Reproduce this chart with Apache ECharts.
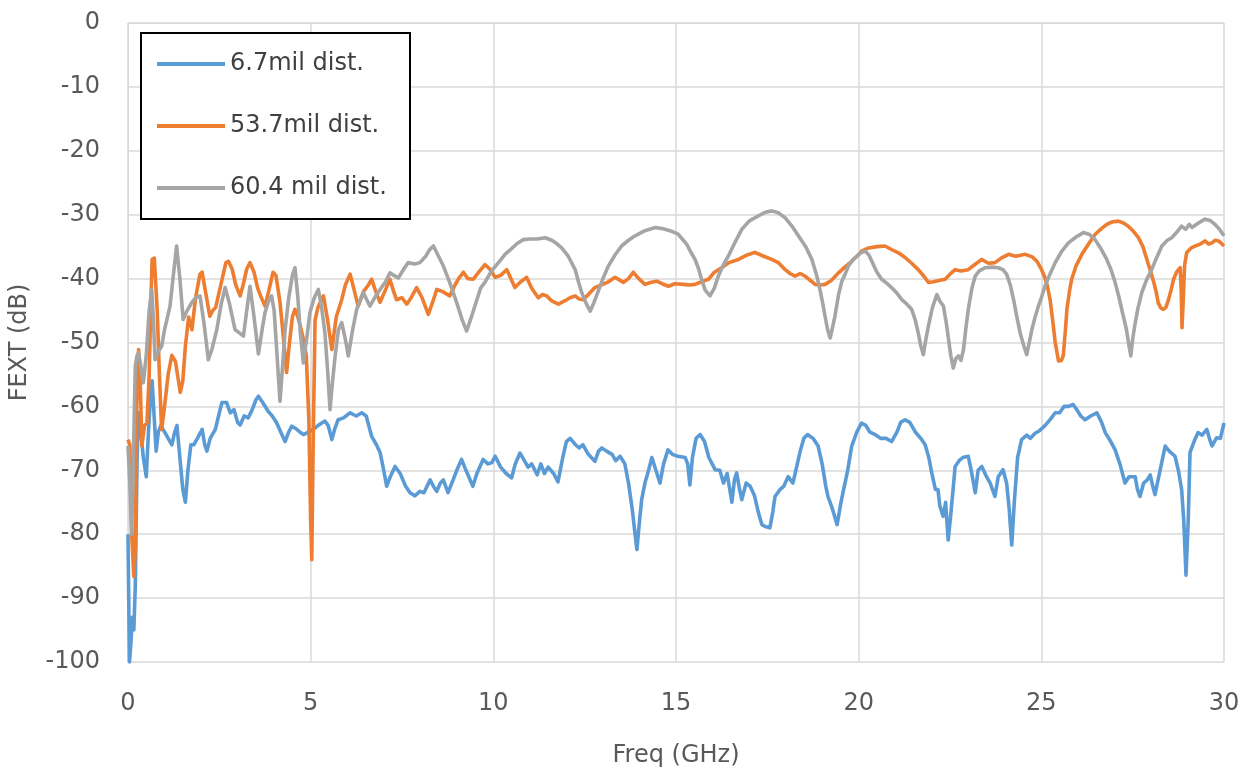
<!DOCTYPE html>
<html>
<head>
<meta charset="utf-8">
<script src="https://cdn.jsdelivr.net/npm/echarts@6/dist/echarts.min.js"></script>
<style>
  html, body { margin: 0; padding: 0; background: #fff; }
  #chart { width: 1251px; height: 776px; }
</style>
</head>
<body>
<div id="chart"></div>
<script>
// ---------- data ----------
const seriesNames = ["6.7mil dist.", "53.7mil dist.", "60.4 mil dist."];
const xTicks = [0, 5, 10, 15, 20, 25, 30];
const yTicks = [0, -10, -20, -30, -40, -50, -60, -70, -80, -90, -100];

const blueF = [0.00,0.04,0.08,0.12,0.16,0.20,0.25,0.29,0.35,0.42,0.50,0.56,0.62,0.66,0.72,0.77,0.83,0.90,1.00,1.10,1.20,1.28,1.34,1.42,1.50,1.57,1.64,1.72,1.80,1.90,2.03,2.10,2.16,2.25,2.39,2.50,2.57,2.70,2.80,2.90,3.00,3.07,3.18,3.29,3.40,3.50,3.57,3.70,3.84,3.95,4.07,4.18,4.30,4.40,4.48,4.60,4.70,4.80,4.95,5.07,5.20,5.39,5.48,5.58,5.66,5.75,5.90,6.08,6.25,6.40,6.52,6.67,6.80,6.90,7.00,7.08,7.18,7.31,7.45,7.60,7.72,7.85,7.99,8.10,8.27,8.36,8.45,8.55,8.63,8.76,8.90,9.00,9.13,9.25,9.44,9.55,9.72,9.85,9.96,10.05,10.20,10.35,10.50,10.60,10.73,10.85,10.95,11.05,11.20,11.30,11.40,11.50,11.65,11.77,11.90,12.00,12.10,12.25,12.35,12.45,12.60,12.78,12.88,12.97,13.10,13.25,13.35,13.47,13.60,13.70,13.80,13.88,13.93,14.00,14.06,14.15,14.25,14.34,14.45,14.56,14.66,14.78,14.90,15.05,15.25,15.32,15.38,15.45,15.55,15.66,15.78,15.90,16.07,16.20,16.30,16.40,16.53,16.60,16.66,16.74,16.80,16.92,17.03,17.15,17.25,17.35,17.44,17.57,17.65,17.71,17.85,17.95,18.07,18.20,18.28,18.40,18.50,18.60,18.75,18.89,19.00,19.10,19.16,19.28,19.41,19.50,19.57,19.70,19.81,19.95,20.08,20.20,20.30,20.45,20.60,20.75,20.90,21.05,21.15,21.27,21.40,21.55,21.70,21.82,21.92,22.00,22.10,22.17,22.22,22.31,22.38,22.45,22.52,22.60,22.64,22.75,22.85,23.00,23.08,23.19,23.27,23.37,23.50,23.60,23.73,23.82,23.95,24.05,24.12,24.19,24.26,24.35,24.46,24.60,24.70,24.83,24.95,25.10,25.25,25.38,25.50,25.62,25.75,25.87,25.97,26.08,26.20,26.35,26.52,26.65,26.75,26.90,27.02,27.15,27.29,27.40,27.57,27.63,27.70,27.80,27.90,27.98,28.05,28.11,28.25,28.39,28.50,28.66,28.75,28.84,28.90,28.96,29.02,29.07,29.18,29.29,29.40,29.53,29.60,29.67,29.80,29.90,30.00];
const blueV = [-80,-100,-97,-93,-95,-88,-68,-61,-64,-68,-71,-64,-58,-56,-62,-67,-64,-63,-64,-65,-66,-64,-63,-68,-73,-75,-70,-66,-66,-65,-63.6,-66,-67,-65,-63.6,-61,-59.4,-59.4,-61,-60.5,-62.5,-62.9,-61.5,-61.8,-60.5,-59,-58.4,-59.5,-60.8,-61.5,-62.6,-64,-65.5,-64,-63.1,-63.5,-64,-64.4,-64,-63.6,-63,-62.3,-63,-65.2,-63.5,-62.1,-61.8,-61,-61.5,-61,-61.5,-64.7,-66,-67.2,-70,-72.5,-71,-69.4,-70.5,-72.5,-73.5,-74,-73.3,-73.5,-71.5,-72.5,-73.3,-72,-71.5,-73.5,-71.5,-70,-68.3,-70,-72.5,-70.5,-68.3,-69,-68.8,-67.8,-69.5,-70.5,-71.2,-69,-67.3,-68.5,-69.5,-69,-70.7,-69,-70.5,-69.5,-70.5,-71.8,-68,-65.5,-65,-66,-66.5,-66,-67.5,-68.6,-67,-66.5,-67,-67.5,-68.5,-67.8,-69,-72,-76,-80,-82.4,-78,-74.6,-72,-70,-68,-70,-72,-69,-66.8,-67.5,-67.8,-68,-69,-72.3,-68,-65,-64.4,-65.5,-68,-69.9,-70,-72,-70.5,-75,-71.5,-70.4,-73,-74.6,-72,-72.5,-74,-76.5,-78.5,-78.8,-79,-76.5,-74.1,-73,-72.5,-71,-72,-70,-67,-65,-64.4,-65,-66.2,-69,-72.5,-74.1,-76,-78.5,-75.5,-73.5,-70,-66.2,-64,-62.6,-63,-64,-64.4,-65,-65,-65.5,-64,-62.5,-62.1,-62.5,-64,-65,-66,-68,-70.4,-73,-73,-75.5,-77.2,-75,-80.9,-77,-72,-69.4,-68.5,-68,-67.8,-70,-73.5,-70,-69.4,-71,-72,-74.1,-71,-69.9,-72,-76,-81.7,-75,-68,-65.2,-64.5,-65,-64.2,-63.8,-63,-62,-61,-61,-60,-60,-59.7,-60.5,-61.5,-62.1,-61.5,-61,-62.5,-64.1,-65.5,-66.8,-69,-72,-71,-71,-73,-74.1,-72,-71.5,-70.7,-72.5,-73.8,-70,-66.2,-67,-67.8,-70,-73,-78,-86.4,-78,-67.2,-65.5,-64.1,-64.5,-63.6,-65,-66.2,-64.9,-65,-62.6];

const orangeF = [0.00,0.05,0.10,0.16,0.20,0.24,0.29,0.33,0.38,0.45,0.52,0.58,0.62,0.66,0.72,0.76,0.80,0.86,0.92,1.00,1.10,1.20,1.30,1.43,1.50,1.57,1.66,1.75,1.85,1.97,2.03,2.12,2.24,2.32,2.40,2.50,2.60,2.68,2.75,2.85,2.95,3.07,3.15,3.25,3.34,3.45,3.55,3.65,3.75,3.85,3.97,4.05,4.16,4.25,4.34,4.42,4.50,4.57,4.65,4.72,4.80,4.88,4.95,5.00,5.03,5.07,5.12,5.20,5.35,5.45,5.58,5.70,5.85,5.95,6.08,6.20,6.30,6.45,6.58,6.67,6.78,6.90,7.03,7.17,7.27,7.35,7.50,7.63,7.75,7.90,8.05,8.22,8.35,8.45,8.60,8.81,8.95,9.05,9.18,9.30,9.45,9.60,9.77,9.90,10.05,10.20,10.37,10.48,10.59,10.75,10.91,11.05,11.23,11.35,11.46,11.60,11.78,11.95,12.10,12.24,12.35,12.46,12.60,12.78,12.95,13.15,13.33,13.45,13.56,13.70,13.83,13.98,14.15,14.30,14.47,14.62,14.79,14.97,15.20,15.35,15.52,15.70,15.89,16.05,16.25,16.45,16.71,16.95,17.16,17.40,17.62,17.80,17.99,18.12,18.26,18.40,18.53,18.68,18.81,18.95,19.08,19.25,19.45,19.62,19.81,19.95,20.08,20.27,20.50,20.72,20.95,21.10,21.27,21.45,21.63,21.78,21.91,22.05,22.20,22.37,22.50,22.64,22.80,23.00,23.18,23.37,23.55,23.73,23.90,24.10,24.30,24.56,24.75,24.88,25.00,25.08,25.16,25.24,25.31,25.38,25.47,25.55,25.60,25.66,25.70,25.77,25.83,25.95,26.11,26.30,26.47,26.62,26.79,26.95,27.11,27.25,27.38,27.52,27.66,27.78,27.89,27.98,28.07,28.14,28.20,28.27,28.34,28.41,28.48,28.55,28.62,28.70,28.80,28.83,28.85,28.88,28.92,28.98,29.10,29.21,29.35,29.48,29.58,29.67,29.76,29.85,29.93,30.00];
const orangeV = [-65.2,-66,-80,-86.6,-82,-60,-51.1,-55,-66.2,-63,-62.6,-55,-45,-37,-36.8,-37,-45,-55,-63.6,-60,-55,-52,-53,-57.8,-56,-50.6,-46,-48,-43,-39.3,-39,-42,-45.9,-45,-44.5,-42,-39.5,-37.5,-37.3,-38.5,-41,-42.7,-41,-38.5,-37.5,-39,-41.5,-43,-44.3,-42,-39,-39.5,-43.7,-49,-54.7,-50,-46,-44.8,-46,-47.5,-49.5,-52,-62,-78,-84,-65,-46.5,-44.5,-42.7,-46,-51.1,-46,-43.3,-41,-39.3,-42,-44.3,-42,-41,-40.1,-42,-43.7,-42,-40.1,-42,-43.3,-43,-44,-43,-41.4,-43,-45.6,-43.5,-41.7,-42,-42.7,-41,-40,-39,-40,-40.1,-39,-37.8,-38.5,-39.8,-39.5,-38.6,-40,-41.4,-40.5,-39.8,-41.5,-43,-42.5,-42.7,-43.5,-44,-43.5,-43,-42.7,-43.2,-43.3,-42.5,-41.4,-41,-40.5,-39.8,-40.2,-40.6,-40,-39,-40,-40.9,-40.6,-40.4,-40.8,-41.2,-40.8,-40.9,-41,-40.9,-40.5,-40.1,-39,-38.3,-37.5,-37,-36.3,-35.9,-36.5,-37,-37.5,-38.6,-39.2,-39.6,-39.2,-39.6,-40.3,-40.9,-41,-40.9,-40.3,-39.1,-38.2,-37.3,-36.5,-35.7,-35.2,-35,-34.9,-35.6,-36,-36.7,-37.6,-38.6,-39.6,-40.6,-40.5,-40.3,-40.1,-39.3,-38.6,-38.8,-38.6,-37.8,-37,-37.6,-37.5,-36.8,-36.2,-36.5,-36.2,-36.6,-37.3,-38.5,-39.6,-41,-43.3,-46.5,-50,-52.9,-52.8,-52.1,-48,-44.8,-42,-40.1,-38,-36.2,-34.5,-33.1,-32.3,-31.5,-31.1,-31,-31.3,-31.8,-32.6,-33.6,-35,-37,-38.7,-40.4,-42,-43.8,-44.6,-44.8,-44.5,-43.3,-41.8,-40.1,-39,-38.3,-42,-47.7,-44,-38,-35.9,-35.2,-34.9,-34.6,-34.1,-34.6,-34.4,-34,-34.1,-34.5,-34.9];

const grayF = [0.00,0.05,0.10,0.14,0.20,0.25,0.29,0.36,0.42,0.50,0.58,0.65,0.70,0.74,0.82,0.92,1.00,1.15,1.25,1.33,1.42,1.51,1.62,1.74,1.85,1.97,2.08,2.20,2.30,2.43,2.55,2.66,2.78,2.93,3.05,3.16,3.25,3.34,3.45,3.57,3.67,3.75,3.85,3.93,4.00,4.08,4.16,4.24,4.30,4.40,4.50,4.57,4.65,4.71,4.80,4.90,4.98,5.10,5.21,5.30,5.39,5.46,5.53,5.60,5.67,5.76,5.85,5.95,6.03,6.15,6.26,6.44,6.62,6.75,6.90,7.05,7.17,7.28,7.40,7.55,7.67,7.85,7.99,8.15,8.25,8.36,8.50,8.63,8.80,9.00,9.15,9.27,9.40,9.55,9.65,9.77,9.95,10.14,10.32,10.50,10.65,10.82,11.00,11.20,11.42,11.60,11.75,11.87,12.05,12.24,12.33,12.42,12.55,12.65,12.75,12.87,13.00,13.15,13.33,13.51,13.70,13.88,14.15,14.43,14.65,14.88,15.05,15.20,15.29,15.40,15.52,15.62,15.70,15.80,15.93,16.05,16.16,16.30,16.43,16.60,16.80,17.00,17.25,17.45,17.62,17.80,17.99,18.20,18.35,18.55,18.72,18.85,18.94,19.02,19.08,19.15,19.22,19.29,19.35,19.45,19.54,19.63,19.72,19.85,19.95,20.05,20.18,20.28,20.36,20.50,20.63,20.78,20.90,21.05,21.18,21.32,21.45,21.55,21.63,21.70,21.77,21.84,21.91,22.02,22.14,22.22,22.32,22.40,22.46,22.52,22.59,22.66,22.73,22.80,22.87,22.93,23.00,23.10,23.19,23.30,23.46,23.65,23.82,23.95,24.05,24.15,24.24,24.33,24.42,24.52,24.60,24.67,24.74,24.83,24.92,25.00,25.10,25.22,25.38,25.55,25.74,25.95,26.15,26.32,26.47,26.62,26.79,26.92,27.02,27.12,27.20,27.27,27.33,27.40,27.45,27.50,27.57,27.65,27.75,27.88,28.02,28.15,28.30,28.45,28.57,28.70,28.84,28.95,29.05,29.12,29.30,29.48,29.62,29.75,29.88,30.00];
const grayV = [-66.2,-72,-80,-70,-53.7,-52,-51.6,-54,-56.3,-52,-45,-41.7,-47,-52.7,-51.5,-50.6,-48,-44.3,-39,-34.9,-40,-46.4,-45,-43.8,-43,-42.7,-47,-52.7,-51,-48,-44,-41.4,-44,-48,-48.5,-49,-45,-41.2,-46,-51.8,-48,-45.3,-43.5,-42.7,-45,-52,-59.2,-53,-48,-43,-39.5,-38.3,-43,-48,-53.2,-49,-45.3,-43,-41.7,-44.5,-48.5,-54,-60.5,-56,-52.1,-48,-46.9,-49.5,-52.1,-48,-44.8,-42.2,-44.3,-43,-41.7,-40.5,-39.1,-39.5,-39.9,-38.5,-37.5,-37.7,-37.5,-36.5,-35.5,-34.9,-36.5,-38,-40.5,-43.8,-46.5,-48.2,-46,-43.3,-41.5,-40.6,-38.8,-37.5,-36.2,-35.3,-34.5,-33.9,-33.8,-33.8,-33.6,-34,-34.6,-35.2,-36.5,-38.6,-40.5,-42.2,-44,-45.1,-43.8,-42,-40,-38,-36.3,-34.9,-34,-33.3,-32.5,-32,-32.2,-32.6,-33,-34,-34.6,-35.8,-37,-38.5,-40.1,-41.8,-42.7,-41.5,-39.6,-37.8,-36.5,-34.5,-32.3,-31,-30.2,-29.6,-29.4,-29.7,-30.5,-32,-33.3,-35,-37,-39.5,-41.7,-44,-45.9,-48,-49.3,-47.5,-45.9,-42.5,-40.4,-39.3,-38,-37,-36.5,-36,-35.7,-36.3,-37.3,-39,-40.1,-40.8,-41.4,-42.3,-43.3,-44,-44.8,-46.5,-48.5,-50.5,-51.9,-49.5,-47.4,-44.5,-42.5,-43.5,-44.3,-47,-49.5,-52,-54,-52.5,-52.1,-52.8,-51.1,-48,-44.8,-41.5,-39.6,-38.8,-38.3,-38.2,-38.3,-38.6,-39.3,-41,-43.3,-46,-48.5,-50.5,-51.9,-50,-48,-46,-44.3,-43,-41.2,-39.5,-37.5,-35.8,-34.4,-33.5,-32.8,-33.1,-33.9,-35.2,-37,-38.8,-40.6,-42.8,-44.8,-46.5,-48,-50.5,-52.1,-49.5,-46.9,-44.5,-42.2,-40.2,-38.6,-36.8,-34.9,-34,-33.6,-32.8,-31.8,-32.3,-31.5,-32,-31.3,-30.7,-30.9,-31.5,-32.3,-33.3];

const colors = ["#5B9BD5", "#ED7D31", "#A5A5A5"];
// ------------------------------------------------------------

function pairs(f, v) { return f.map((x, i) => [x, v[i]]); }
const seriesData = [pairs(blueF, blueV), pairs(orangeF, orangeV), pairs(grayF, grayV)];

const FONT = "DejaVu Sans";
const chart = echarts.init(document.getElementById('chart'), null, { renderer: 'canvas' });
chart.setOption({
  animation: false,
  backgroundColor: '#ffffff',
  grid: { left: 128, right: 27, top: 23, bottom: 114, containLabel: false },
  legend: {
    orient: 'vertical',
    left: 141, top: 33,
    padding: [19, 14, 19, 16],
    backgroundColor: '#ffffff',
    borderColor: '#000000',
    borderWidth: 2,
    borderRadius: 0,
    icon: 'rect',
    itemWidth: 68,
    itemHeight: 4,
    itemGap: 38,
    data: seriesNames,
    textStyle: { fontFamily: FONT, fontSize: 24, color: '#404040', width: 166, lineHeight: 24 }
  },
  xAxis: {
    type: 'value', min: xTicks[0], max: xTicks[xTicks.length - 1], interval: 5,
    name: 'Freq (GHz)', nameLocation: 'middle', nameGap: 82,
    nameTextStyle: { fontFamily: FONT, fontSize: 24, color: '#595959' },
    axisLine: { show: true, lineStyle: { color: '#D9D9D9', width: 1 } },
    axisTick: { show: false },
    axisLabel: { fontFamily: FONT, fontSize: 24, color: '#595959', margin: 30 },
    splitLine: { show: true, lineStyle: { color: '#D9D9D9', width: 1.5 } }
  },
  yAxis: {
    type: 'value', min: yTicks[yTicks.length - 1], max: yTicks[0], interval: 10,
    name: 'FEXT (dB)', nameLocation: 'middle', nameGap: 96, nameRotate: 90,
    nameTextStyle: { fontFamily: FONT, fontSize: 24, color: '#595959' },
    axisLine: { show: true, lineStyle: { color: '#D9D9D9', width: 1 } },
    axisTick: { show: false },
    axisLabel: { fontFamily: FONT, fontSize: 24, color: '#595959', margin: 28 },
    splitLine: { show: true, lineStyle: { color: '#D9D9D9', width: 1.5 } }
  },
  series: seriesNames.map((name, i) => ({
    name: name,
    type: 'line',
    data: seriesData[i],
    showSymbol: false,
    symbol: 'none',
    clip: true,
    lineStyle: { color: colors[i], width: 3.6, join: 'round' },
    itemStyle: { color: colors[i] },
    z: 2 + i
  }))
});
</script>
</body>
</html>
